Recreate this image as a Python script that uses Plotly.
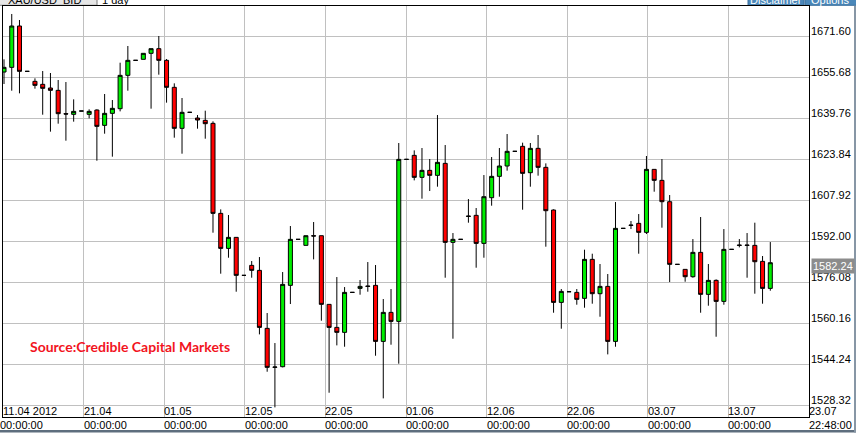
import pandas as pd
import plotly.graph_objects as go

# ---------------- data ----------------
dates = pd.date_range("2012-04-11", periods=100, freq="D")

open_ = [1657.63, 1659.44, 1675.48, 1657.89, 1654.01, 1652.85, 1651.43, 1650.52, 1641.47, 1641.21,
         1642.50, 1641.21, 1642.89, 1636.94, 1641.60, 1643.41, 1656.34, 1662.16, 1662.55, 1664.88,
         1666.69, 1662.16, 1651.69, 1635.78, 1641.99, 1639.79, 1638.88, 1637.72, 1602.80, 1589.22,
         1593.49, 1578.75, 1582.63, 1580.69, 1558.19, 1543.06, 1543.32, 1574.87, 1592.72, 1590.39,
         1594.14, 1594.14, 1567.50, 1558.57, 1556.64, 1572.15, 1573.70, 1574.61, 1574.87, 1553.14,
         1564.39, 1560.90, 1623.75, 1625.30, 1616.77, 1619.48, 1617.54, 1622.20, 1591.55, 1592.72,
         1601.77, 1602.03, 1591.16, 1608.88, 1617.16, 1621.17, 1626.86, 1628.80, 1618.58, 1628.02,
         1620.65, 1604.10, 1568.27, 1572.41, 1572.15, 1569.83, 1584.96, 1571.64, 1574.48, 1553.14,
         1596.98, 1598.28, 1598.92, 1595.43, 1619.87, 1615.60, 1607.33, 1583.02, 1581.08, 1578.23,
         1587.67, 1571.38, 1576.81, 1568.66, 1588.84, 1590.52, 1590.52, 1590.39, 1584.18, 1573.70]

high = [1662.55, 1680.14, 1677.81, 1657.89, 1655.18, 1658.02, 1657.25, 1654.53, 1653.75, 1647.03,
        1642.50, 1643.15, 1643.15, 1649.10, 1646.77, 1661.25, 1667.72, 1662.16, 1664.88, 1666.69,
        1671.60, 1662.68, 1653.24, 1647.55, 1641.99, 1640.95, 1642.63, 1638.50, 1604.35, 1602.16,
        1593.49, 1578.75, 1584.31, 1585.86, 1564.14, 1552.50, 1580.04, 1597.89, 1592.72, 1594.14,
        1599.44, 1594.14, 1567.50, 1578.10, 1574.22, 1572.15, 1576.94, 1583.92, 1582.76, 1569.57,
        1573.45, 1630.09, 1623.75, 1627.24, 1628.15, 1623.88, 1640.95, 1629.31, 1595.17, 1592.72,
        1608.36, 1604.87, 1617.67, 1624.66, 1628.15, 1633.58, 1626.86, 1630.22, 1630.09, 1633.19,
        1622.20, 1604.35, 1573.45, 1572.41, 1573.45, 1588.71, 1587.15, 1583.15, 1579.27, 1607.20,
        1596.98, 1599.83, 1602.54, 1625.05, 1619.87, 1623.88, 1609.91, 1583.02, 1581.08, 1592.84,
        1601.38, 1583.15, 1577.20, 1596.72, 1588.84, 1592.84, 1595.17, 1599.18, 1586.25, 1591.68]

low = [1652.98, 1650.39, 1649.36, 1657.89, 1651.17, 1641.08, 1634.49, 1637.59, 1630.99, 1638.37,
       1642.50, 1639.66, 1623.23, 1633.71, 1624.79, 1642.37, 1650.39, 1662.16, 1662.55, 1643.41,
       1656.60, 1645.74, 1632.16, 1625.95, 1641.99, 1635.65, 1631.77, 1595.30, 1579.40, 1585.60,
       1572.41, 1578.75, 1577.84, 1555.86, 1541.37, 1527.54, 1543.06, 1567.63, 1592.72, 1590.39,
       1584.96, 1561.16, 1533.23, 1551.59, 1551.07, 1572.15, 1571.25, 1572.41, 1547.58, 1531.03,
       1551.85, 1544.48, 1623.75, 1615.60, 1608.49, 1611.47, 1613.15, 1577.84, 1554.18, 1592.72,
       1599.18, 1581.72, 1585.60, 1605.78, 1609.27, 1619.36, 1626.86, 1604.22, 1613.15, 1617.42,
       1589.87, 1564.26, 1558.06, 1572.41, 1567.37, 1566.20, 1567.76, 1562.71, 1548.10, 1551.07,
       1596.98, 1596.72, 1587.15, 1594.78, 1611.21, 1597.24, 1576.16, 1583.02, 1576.29, 1577.84,
       1564.26, 1566.98, 1554.95, 1567.37, 1588.84, 1589.61, 1577.84, 1571.64, 1567.76, 1572.80]

close = [1659.44, 1675.48, 1657.89, 1657.89, 1652.46, 1651.30, 1650.52, 1641.47, 1641.34, 1642.37,
         1642.50, 1642.37, 1636.55, 1641.60, 1643.54, 1656.34, 1662.16, 1662.16, 1664.88, 1666.69,
         1662.16, 1651.69, 1635.78, 1641.99, 1641.99, 1639.01, 1637.59, 1602.80, 1589.22, 1593.49,
         1578.75, 1578.75, 1580.69, 1558.57, 1543.06, 1543.19, 1575.26, 1592.72, 1592.72, 1594.14,
         1594.01, 1567.50, 1558.57, 1556.64, 1572.15, 1572.15, 1574.48, 1574.48, 1553.14, 1564.39,
         1560.90, 1623.75, 1623.75, 1616.77, 1619.48, 1617.54, 1622.59, 1591.55, 1592.72, 1592.72,
         1601.64, 1591.16, 1609.27, 1617.16, 1621.17, 1626.86, 1626.86, 1618.32, 1628.02, 1620.65,
         1603.84, 1568.27, 1572.54, 1572.41, 1569.44, 1584.96, 1571.64, 1574.48, 1553.14, 1596.98,
         1596.98, 1598.14, 1595.43, 1619.87, 1615.60, 1607.33, 1583.02, 1583.02, 1578.23, 1587.67,
         1571.38, 1576.81, 1568.66, 1588.84, 1588.84, 1590.39, 1590.39, 1584.05, 1573.70, 1583.66]

y_ticks = [1528.32, 1544.24, 1560.16, 1576.08, 1592.00, 1607.92, 1623.84, 1639.76, 1655.68, 1671.60]
date_labels = ["11.04 2012", "21.04", "01.05", "12.05", "22.05", "01.06",
               "12.06", "22.06", "03.07", "13.07", "23.07"]
time_labels = ["00:00:00"] * 10 + ["22:48:00"]
last_price = 1582.24
source_text = "Source:Credible Capital Markets"
symbol_text = "XAU/USD_BID"
period_text = "1 day"

# ---------------- layout helpers ----------------
W, H = 856, 437
ML, MR, MT, MB = 3, 47, 6, 20
PW = W - ML - MR
PH = H - MT - MB


def xp(px):
    return (px - ML) / PW


def yp(py):
    return 1 - (py - MT) / PH


t0 = dates[0] - pd.Timedelta(hours=3.1)
t1 = dates[0] + pd.Timedelta(days=104.0)
tick_x = [t0 + (t1 - t0) * k / 10 for k in range(11)]

FONT = "Liberation Sans, Arial, sans-serif"

fig = go.Figure()
fig.add_trace(go.Candlestick(
    x=dates, open=open_, high=high, low=low, close=close,
    increasing=dict(line=dict(color="black", width=1), fillcolor="#00ee00"),
    decreasing=dict(line=dict(color="black", width=1), fillcolor="#ff0000"),
    whiskerwidth=0,
    hoverinfo="skip",
    showlegend=False,
))

annotations = []
for k in range(11):
    annotations.append(dict(
        x=tick_x[k], xref="x", y=0, yref="paper", xanchor="left", yanchor="bottom",
        text=date_labels[k], showarrow=False, font=dict(family=FONT, size=11, color="black"),
        xshift=-1, yshift=-1, borderpad=0))
    annotations.append(dict(
        x=tick_x[k], xref="x", y=0, yref="paper", xanchor="left", yanchor="top",
        text=time_labels[k], showarrow=False, font=dict(family=FONT, size=11, color="black"),
        xshift=(-4 if k == 0 else -1), yshift=-1, borderpad=0))

# price-axis labels (sit just above their grid lines)
for v in y_ticks:
    annotations.append(dict(
        x=xp(810), xref="paper", y=v, yref="y", xanchor="left", yanchor="middle",
        text=f"{v:.2f}", showarrow=False, yshift=5, borderpad=0,
        font=dict(family=FONT, size=11, color="black")))

annotations.append(dict(
    x=xp(811), xref="paper", y=last_price, yref="y", xanchor="left", yanchor="middle",
    text=f"{last_price:.2f}", showarrow=False, bgcolor="#8c8c8c", borderpad=1,
    font=dict(family=FONT, size=11, color="white")))

annotations.append(dict(
    x=xp(28), xref="paper", y=yp(346), yref="paper", xanchor="left", yanchor="middle",
    text=f"<b>{source_text}</b>", showarrow=False,
    font=dict(family="Lato, Open Sans, sans-serif", size=14, color="#f2141e")))

# header (cut off at the top of the window)
annotations.append(dict(
    x=xp(6), xref="paper", y=yp(7.5), yref="paper", xanchor="left", yanchor="bottom",
    text=symbol_text, showarrow=False, font=dict(family=FONT, size=11, color="black")))
annotations.append(dict(
    x=xp(100), xref="paper", y=yp(7.5), yref="paper", xanchor="left", yanchor="bottom",
    text=period_text, showarrow=False, font=dict(family=FONT, size=11, color="black")))
annotations.append(dict(
    x=xp(776), xref="paper", y=yp(7.5), yref="paper", xanchor="center", yanchor="bottom",
    text="Disclaimer", showarrow=False, font=dict(family=FONT, size=11, color="white")))
annotations.append(dict(
    x=xp(830), xref="paper", y=yp(7.5), yref="paper", xanchor="center", yanchor="bottom",
    text="Options", showarrow=False, font=dict(family=FONT, size=11, color="white")))

shapes = [
    dict(type="rect", xref="paper", yref="paper", x0=xp(-1), x1=xp(97), y0=yp(5.3), y1=yp(-5),
         fillcolor="#e6e6e6", line=dict(color="#7a7a7a", width=1), layer="below"),
    dict(type="rect", xref="paper", yref="paper", x0=xp(748), x1=xp(804), y0=yp(5.3), y1=yp(-5),
         fillcolor="#4a87b9", line=dict(color="#3a6e9c", width=1), layer="below"),
    dict(type="rect", xref="paper", yref="paper", x0=xp(805), x1=xp(858), y0=yp(5.3), y1=yp(-5),
         fillcolor="#4a87b9", line=dict(color="#3a6e9c", width=1), layer="below"),
    dict(type="rect", xref="paper", yref="paper", x0=xp(-2), x1=xp(858), y0=yp(432.5), y1=yp(430),
         fillcolor="#5e6e7e", line=dict(width=0), layer="below"),
    dict(type="rect", xref="paper", yref="paper", x0=xp(854), x1=xp(858), y0=yp(432.5), y1=yp(6),
         fillcolor="#8796a5", line=dict(width=0), layer="below"),
]

fig.update_layout(
    width=W, height=H,
    margin=dict(l=ML, r=MR, t=MT, b=MB, pad=0),
    paper_bgcolor="white", plot_bgcolor="white",
    showlegend=False, hovermode=False,
    boxgap=0.48, boxgroupgap=0,
    font=dict(family=FONT, size=11, color="black"),
    annotations=annotations,
    shapes=shapes,
    xaxis=dict(
        type="date", range=[t0, t1], rangeslider=dict(visible=False),
        tickmode="array", tickvals=tick_x, showticklabels=False, ticks="",
        showgrid=True, gridcolor="#c0c0c0", gridwidth=1,
        showline=True, linecolor="black", linewidth=1, mirror=True, zeroline=False,
        automargin=False,
    ),
    yaxis=dict(
        range=[1523.81, 1683.24], side="right",
        tickmode="array", tickvals=y_ticks, showticklabels=False, ticks="",
        showgrid=True, gridcolor="#c0c0c0", gridwidth=1,
        showline=True, linecolor="black", linewidth=1, mirror=True, zeroline=False,
        automargin=False,
    ),
)

fig.write_html(
    "out.html",
    config={"displayModeBar": False},
    post_script="document.body.style.margin='0px';document.body.style.overflow='hidden';",
)
